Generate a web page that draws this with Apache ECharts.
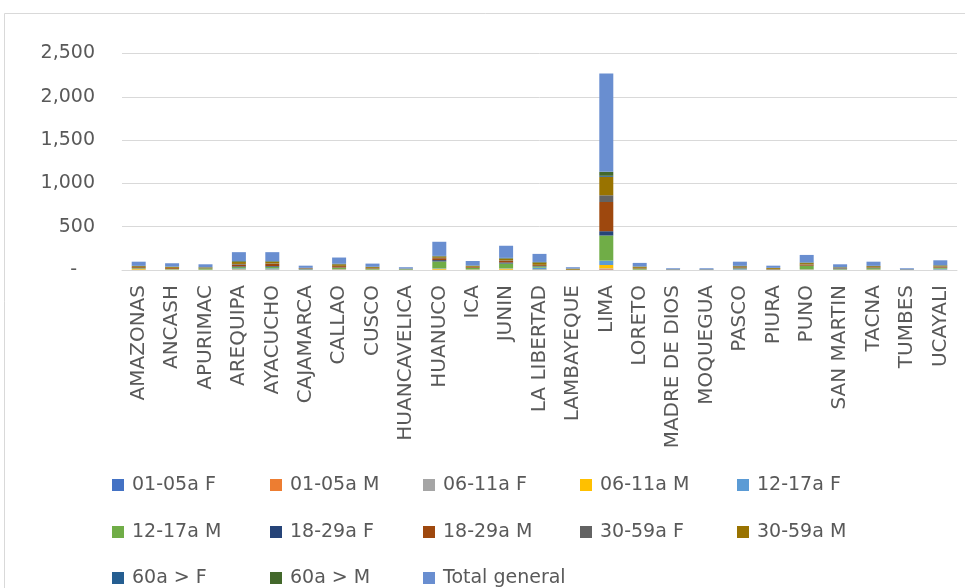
<!DOCTYPE html>
<html>
<head>
<meta charset="utf-8">
<script src="https://cdn.jsdelivr.net/npm/echarts@6/dist/echarts.min.js"></script>
<style>
  html, body { margin: 0; padding: 0; background: #ffffff; }
  #chart { width: 965px; height: 588px; }
</style>
</head>
<body>
<div id="chart"></div>
<script>
// Departments on the category axis
const departments = ['AMAZONAS','ANCASH','APURIMAC','AREQUIPA','AYACUCHO','CAJAMARCA','CALLAO','CUSCO',
  'HUANCAVELICA','HUANUCO','ICA','JUNIN','LA LIBERTAD','LAMBAYEQUE','LIMA','LORETO','MADRE DE DIOS',
  'MOQUEGUA','PASCO','PIURA','PUNO','SAN MARTIN','TACNA','TUMBES','UCAYALI'];

// Counts by age group and sex, one value per department
const f01_05 = [1,1,0,2,1,1,1,0,0,1,1,1,1,0,5,0,1,0,1,0,1,1,1,1,1];
const m01_05 = [3,1,1,2,2,1,2,1,1,2,1,2,2,0,10,1,0,0,1,1,1,1,1,0,1];
const f06_11 = [1,1,0,2,1,1,1,0,0,1,1,1,1,0,5,0,0,0,1,0,1,1,0,0,1];
const m06_11 = [8,3,2,3,3,1,4,2,1,10,3,12,3,0,38,2,1,1,2,1,3,1,3,1,2];
const f12_17 = [2,2,2,10,12,2,4,2,2,5,2,4,20,0,50,2,2,3,8,1,3,2,2,2,10];
const m12_17 = [6,5,14,15,18,3,14,10,6,80,17,55,15,1,290,12,1,1,6,3,38,5,14,1,10];
const f18_29 = [1,1,1,8,8,6,3,1,1,15,2,12,4,0,50,1,2,2,3,1,3,2,2,2,3];
const m18_29 = [10,9,4,20,25,4,16,6,1,22,8,18,10,2,337,5,1,1,8,3,12,4,6,1,10];
const f30_59 = [2,2,1,8,6,2,3,2,1,5,2,6,4,1,78,2,0,1,3,3,3,6,3,1,3];
const m30_59 = [10,10,5,22,18,2,18,10,2,15,10,20,25,11,213,12,1,0,10,10,15,6,12,0,10];
const f60 = [1,1,1,3,3,1,2,1,0,2,1,3,2,0,12,1,1,1,2,1,2,2,1,1,2];
const m60 = [3,3,2,8,6,1,4,2,1,5,4,6,6,1,46,3,0,0,3,1,5,2,3,0,3];
const totalGeneral = [48,39,33,103,103,25,72,37,16,163,52,140,93,16,1134,41,10,10,48,25,87,33,48,10,56];

// Value axis ticks
const yTicks = [0, 500, 1000, 1500, 2000, 2500];

const seriesDefs = [
  { name: '01-05a F', data: f01_05, color: '#4472C4' },
  { name: '01-05a M', data: m01_05, color: '#ED7D31' },
  { name: '06-11a F', data: f06_11, color: '#A5A5A5' },
  { name: '06-11a M', data: m06_11, color: '#FFC000' },
  { name: '12-17a F', data: f12_17, color: '#5B9BD5' },
  { name: '12-17a M', data: m12_17, color: '#70AD47' },
  { name: '18-29a F', data: f18_29, color: '#264478' },
  { name: '18-29a M', data: m18_29, color: '#9E480E' },
  { name: '30-59a F', data: f30_59, color: '#636363' },
  { name: '30-59a M', data: m30_59, color: '#997300' },
  { name: '60a > F', data: f60, color: '#255E91' },
  { name: '60a > M', data: m60, color: '#43682B' },
  { name: 'Total general', data: totalGeneral, color: '#698ED0' }
];

const textColor = '#595959';
const fontFamily = 'DejaVu Sans';

// Legend laid out as a 5-column grid
const legendCols = [112, 270, 423, 580, 737];
const legendRows = [475, 522, 568];
const legends = seriesDefs.map((s, i) => ({
  data: [s.name],
  left: legendCols[i % 5],
  top: legendRows[Math.floor(i / 5)],
  padding: 0,
  icon: 'rect',
  itemWidth: 12,
  itemHeight: 12,
  selectedMode: false,
  textStyle: { fontSize: 19, color: textColor, fontFamily: fontFamily, lineHeight: 20, padding: [0, 0, 0, 3] }
}));

const chart = echarts.init(document.getElementById('chart'), null, { renderer: 'canvas' });
chart.setOption({
  animation: false,
  backgroundColor: '#ffffff',
  graphic: [{
    type: 'rect',
    shape: { x: 4.5, y: 13.5, width: 1000, height: 700 },
    style: { fill: 'none', stroke: '#D9D9D9', lineWidth: 1 },
    silent: true
  }],
  legend: legends,
  grid: { left: 122, right: 8, top: 53.5, bottom: 318, containLabel: false },
  xAxis: {
    type: 'category',
    data: departments,
    axisLine: { lineStyle: { color: '#D9D9D9', width: 1 } },
    axisTick: { show: false },
    axisLabel: {
      interval: 0,
      rotate: 90,
      margin: 15,
      fontSize: 20,
      color: textColor,
      fontFamily: fontFamily
    }
  },
  yAxis: {
    type: 'value',
    min: yTicks[0],
    max: yTicks[yTicks.length - 1],
    interval: yTicks[1] - yTicks[0],
    axisLine: { show: false },
    axisTick: { show: false },
    splitLine: { lineStyle: { color: '#D9D9D9', width: 1 } },
    axisLabel: {
      margin: 27,
      fontSize: 19,
      color: textColor,
      fontFamily: fontFamily,
      formatter: v => v === 0 ? '{z|-}' : v.toLocaleString('en-US'),
      rich: { z: { fontSize: 19, color: textColor, fontFamily: fontFamily, padding: [0, 18, 0, 0] } }
    }
  },
  series: seriesDefs.map(s => ({
    name: s.name,
    type: 'bar',
    stack: 'all',
    barWidth: 14,
    data: s.data,
    itemStyle: { color: s.color },
    emphasis: { disabled: true }
  }))
});
</script>
</body>
</html>
